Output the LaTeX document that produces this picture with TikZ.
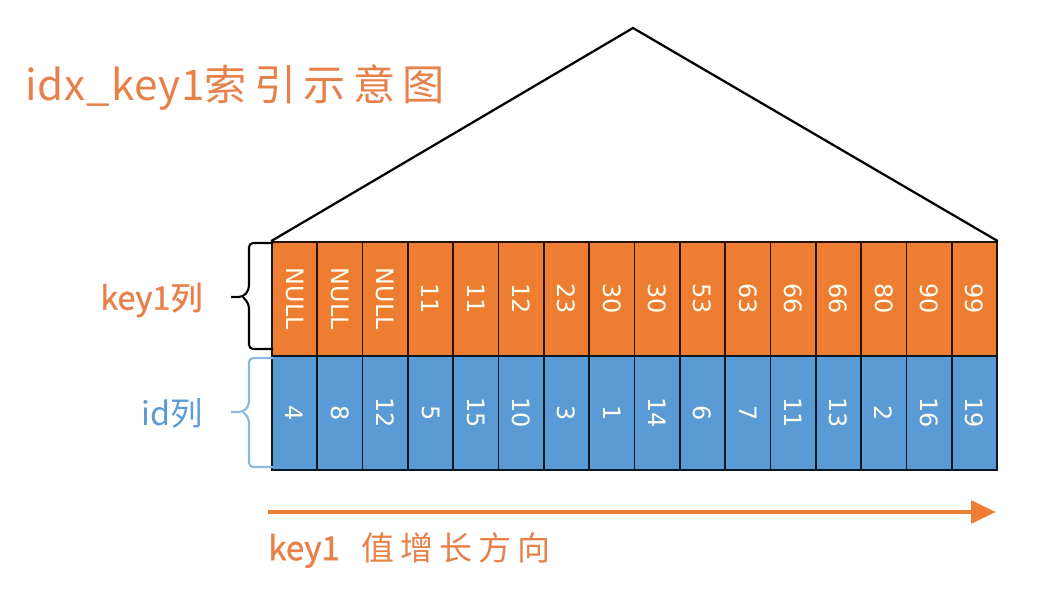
\documentclass[tikz,border=0pt]{standalone}
\usepackage{fontspec}
\newfontfamily\cjkfont{Noto Sans CJK SC}
\newfontfamily\cjkbold[FakeBold=1.2]{Noto Sans CJK SC}
\newfontfamily\titlelatin[LetterSpace=2]{Noto Sans CJK SC}
\newfontfamily\titlecjk[LetterSpace=17]{Noto Sans CJK SC}
\newfontfamily\growcjk[LetterSpace=18]{Noto Sans CJK SC}
\newfontfamily\cellfont{DejaVu Sans}
\usetikzlibrary{arrows.meta}
\definecolor{keyorange}{HTML}{ED7D31}
\definecolor{idblue}{HTML}{5B9BD5}
\definecolor{textorange}{HTML}{E8804A}
\definecolor{textblue}{HTML}{5B9BD5}
\definecolor{bracepale}{HTML}{8DB6E0}
\tikzset{
  keycell/.style={rectangle, draw=black!85!keyorange, line width=1.2pt, fill=keyorange,
    minimum width=1.1328cm, minimum height=2.85cm, inner sep=0pt, text=white!95!yellow,
    font=\fontsize{17}{17}\cellfont},
  idcell/.style={keycell, draw=black!85!idblue, fill=idblue},
  roof/.style={line width=1.6pt, line join=miter},
  keybrace/.style={line width=1.5pt, rounded corners=3pt},
  idbrace/.style={keybrace, draw=bracepale},
  growarrow/.style={line width=3.5pt, draw=keyorange, -{Triangle[length=0.62cm, width=0.55cm]}},
  orangetext/.style={text=textorange, inner sep=0pt},
}

\begin{document}
\begin{tikzpicture}[x=0.025cm, y=-0.025cm]
  \useasboundingbox (0,0) rectangle (1039,603);

  % title
  \node[orangetext, anchor=west, font=\fontsize{30}{34}\titlelatin] (title) at (25,88) {idx\_key1{\titlecjk 索引示意图}};

  % key1 row
  \foreach \k [count=\i] in {NULL,NULL,NULL,11,11,12,23,30,30,53,63,66,66,80,90,99}
    \node[keycell] (k\i) at ({272+45.3125*(\i-0.5)},299) {\rotatebox{-90}{\k}};

  % id row
  \foreach \k [count=\i] in {4,8,12,5,15,10,3,1,14,6,7,11,13,2,16,19}
    \node[idcell] (i\i) at ({272+45.3125*(\i-0.5)},413) {\rotatebox{-90}{\k}};

  % roof of the tree
  \coordinate (apex) at (633,28);
  \draw[roof] (k1.north west) -- (apex) -- (k16.north east);

  % braces
  \draw[keybrace] (273,243) -- (249,243) -- (249,290) -- (243,297) -- (231,297);
  \draw[keybrace] (273,349) -- (249,349) -- (249,304) -- (243,297);
  \draw[idbrace] (273,358) -- (249,358) -- (249,406) -- (243,412) -- (231,412);
  \draw[idbrace] (273,467) -- (249,467) -- (249,418) -- (243,412);

  % row labels
  \node[orangetext, anchor=east, font=\fontsize{23}{26}\cjkbold] (keylabel) at (203,300) {key1列};
  \node[text=textblue, inner sep=0pt, anchor=east, font=\fontsize{23}{26}\cjkfont] (idlabel) at (203,413) {id列};

  % direction
  \coordinate (arrowstart) at (268,512);
  \coordinate (arrowend) at (996,512);
  \draw[growarrow] (arrowstart) -- (arrowend);
  \node[orangetext, anchor=west, font=\fontsize{23.5}{26}\cjkbold] (growlabel) at (268,550) {key1\hspace{0.55cm}{\growcjk 值增长方向}};
\end{tikzpicture}
\end{document}
